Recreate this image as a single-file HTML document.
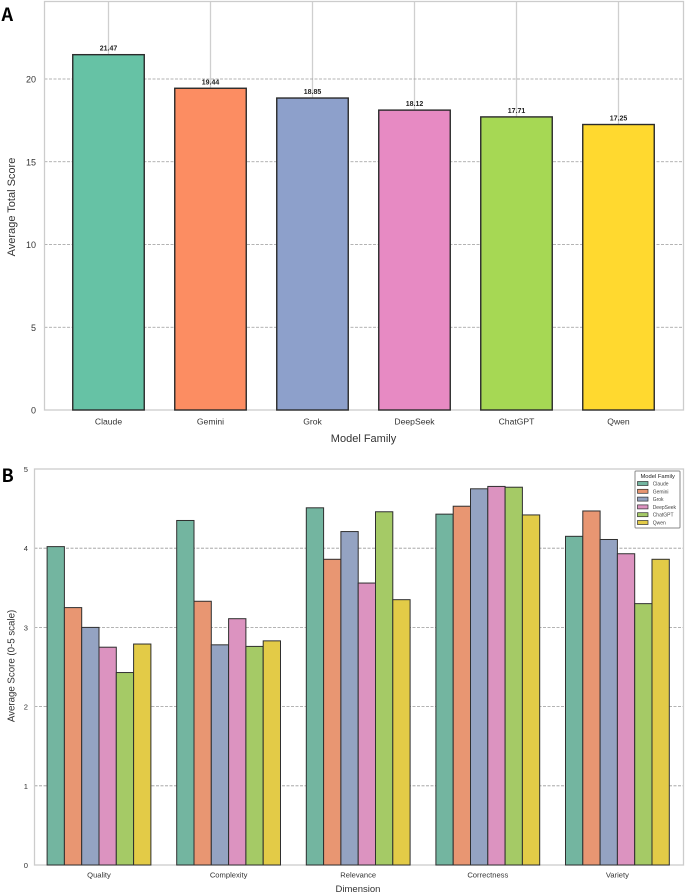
<!DOCTYPE html>
<html>
<head>
<meta charset="utf-8">
<style>
html,body{margin:0;padding:0;background:#fff;width:685px;height:894px;overflow:hidden}
svg{display:block;font-family:"Liberation Sans",sans-serif}
</style>
</head>
<body>
<svg id="fig" width="685" height="894" viewBox="0 0 685 894" xmlns="http://www.w3.org/2000/svg"></svg>
<script>
const familyNames = ["Claude","Gemini","Grok","DeepSeek","ChatGPT","Qwen"];
const totalScores = [21.47,19.44,18.85,18.12,17.71,17.25];
const totalTicks = [0,5,10,15,20];
const dimensionNames = ["Quality","Complexity","Relevance","Correctness","Variety"];
const claudeScores = [4.02,4.35,4.51,4.43,4.15];
const geminiScores = [3.25,3.33,3.86,4.53,4.47];
const grokScores = [3.00,2.78,4.21,4.75,4.11];
const deepseekScores = [2.75,3.11,3.56,4.78,3.93];
const chatgptScores = [2.43,2.76,4.46,4.77,3.30];
const qwenScores = [2.79,2.83,3.35,4.42,3.86];
const dimensionTicks = [0,1,2,3,4,5];
const colorsA = ["#66c2a5","#fc8d62","#8da0cb","#e78ac3","#a6d854","#ffd92f"];
const colorsB = ["#73b5a0","#e89672","#94a3c2","#dc93c0","#a5ca66","#e3cb47"];

const svg = document.getElementById('fig');
const NS = 'http://www.w3.org/2000/svg';
function make(tag, attrs, text){
  const el = document.createElementNS(NS, tag);
  for (const k in attrs) el.setAttribute(k, attrs[k]);
  if (text !== undefined) el.textContent = text;
  svg.appendChild(el);
  return el;
}

/* Panel A axes */
const aLeft = 44.5, aRight = 683.5, aTop = 1.5, aBottom = 410;
const yA = v => aBottom - v * 16.55;
const xA = i => 108.5 + i * 102;
const aBarWidth = 71.5;

/* Panel B axes */
const bLeft = 34.5, bRight = 683.5, bTop = 469, bBottom = 865;
const yB = v => bBottom - v * 79.2;
const xB = i => 99 + i * 129.6;
const bBarWidth = 17.3;

const labelFont = '"Liberation Sans","Noto Sans CJK JP",sans-serif';
const panelFont = '"Noto Sans CJK JP","Liberation Sans",sans-serif';

/* Panel A */
let el = make('text',{x:1.5,y:21,'font-size':18,'font-weight':'bold',fill:'#000','font-family':panelFont},'A');



familyNames.forEach((name,i)=>{
  const g = make('line',{x1:xA(i),x2:xA(i),y1:aTop,y2:aBottom,stroke:'#cfcfcf','stroke-width':1.3});
  
  
});
totalTicks.forEach(t=>{
  if (t === 0) return;
  const g = make('line',{x1:aLeft,x2:aRight,y1:yA(t),y2:yA(t),stroke:'#9a9a9a','stroke-width':0.8,'stroke-dasharray':'3 1.5'});
  
  
});
el = make('rect',{x:aLeft,y:aTop,width:aRight-aLeft,height:aBottom-aTop,fill:'none',stroke:'#cccccc','stroke-width':1.3});



totalScores.forEach((v,i)=>{
  const b = make('rect',{x:xA(i)-aBarWidth/2,y:yA(v),width:aBarWidth,height:aBottom-yA(v),fill:colorsA[i],stroke:'#2b2b2b','stroke-width':1.4});
  
  
  const t = make('text',{x:xA(i),y:yA(v)-4,'text-anchor':'middle','font-size':7,'font-weight':'bold',fill:'#222'},v.toFixed(2));
  
  
  const c = make('text',{x:xA(i),y:424.5,'text-anchor':'middle','font-size':8.6,fill:'#333'},familyNames[i]);
  
  
});
totalTicks.forEach(t=>{
  const l = make('text',{x:36,y:yA(t)+3.5,'text-anchor':'end','font-size':9,fill:'#333'},String(t));
  
  
});
el = make('text',{x:363.5,y:442,'text-anchor':'middle','font-size':11,fill:'#333'},'Model Family');


el = make('text',{x:0,y:0,'text-anchor':'middle','font-size':11,fill:'#333',transform:'translate(15,207) rotate(-90)'},'Average Total Score');



/* Panel B */
el = make('text',{x:1.5,y:482,'font-size':18,'font-weight':'bold',fill:'#000','font-family':panelFont},'B');



dimensionTicks.forEach(t=>{
  if (t === 0) return;
  const g = make('line',{x1:bLeft,x2:bRight,y1:yB(t),y2:yB(t),stroke:'#9a9a9a','stroke-width':0.8,'stroke-dasharray':'3 1.5'});
  
  
});
el = make('rect',{x:bLeft,y:bTop,width:bRight-bLeft,height:bBottom-bTop,fill:'none',stroke:'#cccccc','stroke-width':1.3});



const seriesB = [claudeScores,geminiScores,grokScores,deepseekScores,chatgptScores,qwenScores];
seriesB.forEach((vals,s)=>{
  vals.forEach((v,i)=>{
    const x = xB(i) + (s-3)*bBarWidth;
    const b = make('rect',{x:x,y:yB(v),width:bBarWidth,height:bBottom-yB(v),fill:colorsB[s],stroke:'#2f2f2f','stroke-width':1});
    
    
  });
});
dimensionNames.forEach((d,i)=>{
  const c = make('text',{x:xB(i),y:877.5,'text-anchor':'middle','font-size':7.6,fill:'#333'},d);
  
  
});
dimensionTicks.forEach(t=>{
  const l = make('text',{x:28,y:yB(t)+3,'text-anchor':'end','font-size':7.6,fill:'#333'},String(t));
  
  
});
el = make('text',{x:358,y:892,'text-anchor':'middle','font-size':9.5,fill:'#333'},'Dimension');


el = make('text',{x:0,y:0,'text-anchor':'middle','font-size':9.7,fill:'#333',transform:'translate(14.5,666) rotate(-90)'},'Average Score (0-5 scale)');



/* Legend */
el = make('rect',{x:635,y:471,width:45,height:57,fill:'#fff',stroke:'#8a8a8a','stroke-width':1,rx:1});


el = make('text',{x:657.7,y:477.8,'text-anchor':'middle','font-size':5.8,fill:'#222','font-family':labelFont},'Model Family');


familyNames.forEach((name,i)=>{
  const y = 481.5 + i*7.8;
  const s = make('rect',{x:637.5,y:y,width:10.5,height:4,fill:colorsB[i],stroke:'#2f2f2f','stroke-width':0.7});
  
  
  const t = make('text',{x:652.7,y:y+4,'font-size':5,fill:'#444'},name);
  
  
});
</script>
</body>
</html>
